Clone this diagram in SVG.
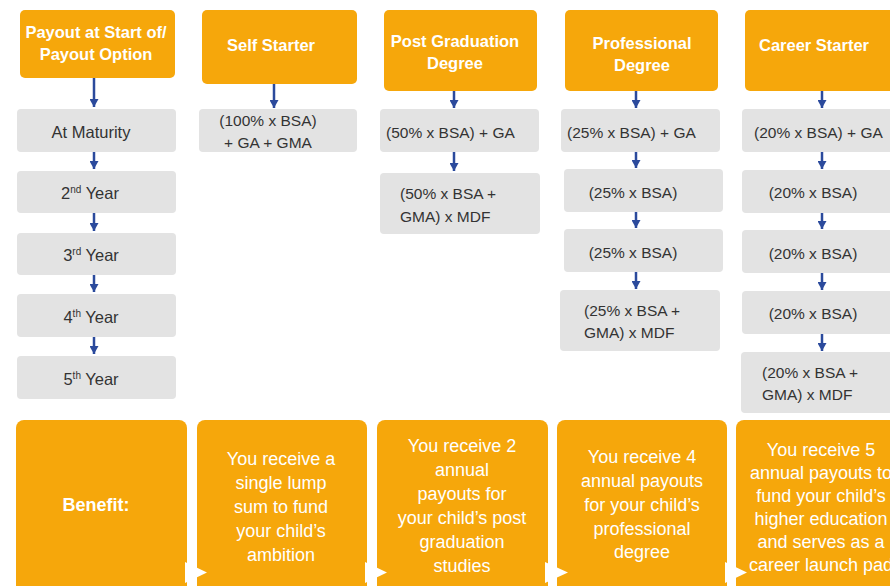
<svg xmlns="http://www.w3.org/2000/svg" width="890" height="586" viewBox="0 0 890 586">
<defs>
<style>
.hd{fill:#F6A70B}
.gb{fill:#E3E3E3}
.bn{fill:#F6A70B}
.ht{font-family:"Liberation Sans",Arial,sans-serif;font-weight:bold;font-size:16.5px;fill:#FFFFFF;text-anchor:middle}
.gt{font-family:"Liberation Sans",Arial,sans-serif;font-size:16.5px;fill:#333333}
.ft{font-family:"Liberation Sans",Arial,sans-serif;font-size:15.5px;fill:#333333}
.c{text-anchor:middle}
.bt{font-family:"Liberation Sans",Arial,sans-serif;font-size:18px;fill:#FFFFFF;text-anchor:middle}
.sup{font-size:10px}
.cn line{stroke:#2B4A9C;stroke-width:2.5;marker-end:url(#ah)}
.tri{fill:#FFFFFF}
</style>
<marker id="ah" markerUnits="userSpaceOnUse" markerWidth="9" markerHeight="9" refX="8" refY="4.5" orient="auto">
<path d="M0,0 L8,4.5 L0,9 z" fill="#2B4A9C"/>
</marker>
</defs>
<rect width="890" height="586" fill="#FFFFFF"/>

<g id="h1"><rect class="hd" x="20" y="10" width="155" height="68" rx="5"/><text class="ht" x="96" y="38">Payout at Start of/</text><text class="ht" x="96" y="60">Payout Option</text></g>
<g id="h2"><rect class="hd" x="202" y="10" width="155" height="74" rx="5"/><text class="ht" x="271" y="51">Self Starter</text></g>
<g id="h3"><rect class="hd" x="384" y="10" width="153" height="81" rx="5"/><text class="ht" x="455" y="47">Post Graduation</text><text class="ht" x="455" y="69">Degree</text></g>
<g id="h4"><rect class="hd" x="565" y="10" width="153" height="81" rx="5"/><text class="ht" x="642" y="49">Professional</text><text class="ht" x="642" y="71">Degree</text></g>
<g id="h5"><rect class="hd" x="745" y="10" width="160" height="81" rx="5"/><text class="ht" x="814" y="51">Career Starter</text></g>

<g id="c1r1"><rect class="gb" x="17" y="109" width="159" height="43" rx="4"/><text class="gt c" x="91" y="138">At Maturity</text></g>
<g id="c1r2"><rect class="gb" x="17" y="171" width="159" height="42" rx="4"/><text class="gt c" x="90" y="199">2<tspan class="sup" dy="-6">nd</tspan><tspan dy="6"> Year</tspan></text></g>
<g id="c1r3"><rect class="gb" x="17" y="233" width="159" height="42" rx="4"/><text class="gt c" x="91" y="261">3<tspan class="sup" dy="-6">rd</tspan><tspan dy="6"> Year</tspan></text></g>
<g id="c1r4"><rect class="gb" x="17" y="294" width="159" height="43" rx="4"/><text class="gt c" x="91" y="323">4<tspan class="sup" dy="-6">th</tspan><tspan dy="6"> Year</tspan></text></g>
<g id="c1r5"><rect class="gb" x="17" y="356" width="159" height="43" rx="4"/><text class="gt c" x="91" y="385">5<tspan class="sup" dy="-6">th</tspan><tspan dy="6"> Year</tspan></text></g>

<g id="c2r1"><rect class="gb" x="199" y="109" width="158" height="43" rx="4"/><text class="ft c" x="268" y="126">(100% x BSA)</text><text class="ft c" x="268" y="148">+ GA + GMA</text></g>

<g id="c3r1"><rect class="gb" x="380" y="109" width="159" height="43" rx="4"/><text class="ft" x="386" y="138">(50% x BSA) + GA</text></g>
<g id="c3r2"><rect class="gb" x="380" y="173" width="160" height="61" rx="4"/><text class="ft" x="400" y="199">(50% x BSA +</text><text class="ft" x="400" y="222">GMA) x MDF</text></g>

<g id="c4r1"><rect class="gb" x="561" y="109" width="159" height="43" rx="4"/><text class="ft" x="567" y="138">(25% x BSA) + GA</text></g>
<g id="c4r2"><rect class="gb" x="564" y="169" width="159" height="43" rx="4"/><text class="ft c" x="633" y="198">(25% x BSA)</text></g>
<g id="c4r3"><rect class="gb" x="564" y="229" width="159" height="43" rx="4"/><text class="ft c" x="633" y="258">(25% x BSA)</text></g>
<g id="c4r4"><rect class="gb" x="560" y="290" width="160" height="61" rx="4"/><text class="ft" x="584" y="316">(25% x BSA +</text><text class="ft" x="584" y="338">GMA) x MDF</text></g>

<g id="c5r1"><rect class="gb" x="742" y="109" width="160" height="43" rx="4"/><text class="ft" x="754" y="138">(20% x BSA) + GA</text></g>
<g id="c5r2"><rect class="gb" x="742" y="170" width="160" height="43" rx="4"/><text class="ft c" x="813" y="198">(20% x BSA)</text></g>
<g id="c5r3"><rect class="gb" x="742" y="230" width="160" height="43" rx="4"/><text class="ft c" x="813" y="259">(20% x BSA)</text></g>
<g id="c5r4"><rect class="gb" x="742" y="291" width="160" height="43" rx="4"/><text class="ft c" x="813" y="319">(20% x BSA)</text></g>
<g id="c5r5"><rect class="gb" x="741" y="352" width="160" height="61" rx="4"/><text class="ft" x="762" y="378">(20% x BSA +</text><text class="ft" x="762" y="400">GMA) x MDF</text></g>

<g id="connectors" class="cn">
<line x1="94" y1="78" x2="94" y2="107"/>
<line x1="94" y1="152" x2="94" y2="169"/>
<line x1="94" y1="213" x2="94" y2="231"/>
<line x1="94" y1="275" x2="94" y2="292"/>
<line x1="94" y1="337" x2="94" y2="354"/>
<line x1="274" y1="84" x2="274" y2="108"/>
<line x1="454" y1="91" x2="454" y2="108"/>
<line x1="454" y1="152" x2="454" y2="171"/>
<line x1="636" y1="91" x2="636" y2="108"/>
<line x1="636" y1="152" x2="636" y2="168"/>
<line x1="636" y1="212" x2="636" y2="228"/>
<line x1="636" y1="272" x2="636" y2="289"/>
<line x1="822" y1="91" x2="822" y2="108"/>
<line x1="822" y1="152" x2="822" y2="169"/>
<line x1="822" y1="213" x2="822" y2="229"/>
<line x1="822" y1="273" x2="822" y2="290"/>
<line x1="822" y1="334" x2="822" y2="351"/>
</g>

<g id="b1"><rect class="bn" x="16" y="420" width="171" height="180" rx="8"/><text class="bt" x="96" y="511" font-weight="bold">Benefit:</text></g>
<g id="b2"><rect class="bn" x="197" y="420" width="170" height="180" rx="8"/>
<text class="bt" x="281" y="465">You receive a</text>
<text class="bt" x="281" y="489">single lump</text>
<text class="bt" x="281" y="513">sum to fund</text>
<text class="bt" x="281" y="537">your child’s</text>
<text class="bt" x="281" y="561">ambition</text></g>
<g id="b3"><rect class="bn" x="377" y="420" width="171" height="180" rx="8"/>
<text class="bt" x="462" y="452">You receive 2</text>
<text class="bt" x="462" y="476">annual</text>
<text class="bt" x="462" y="500">payouts for</text>
<text class="bt" x="462" y="524">your child’s post</text>
<text class="bt" x="462" y="548">graduation</text>
<text class="bt" x="462" y="572">studies</text></g>
<g id="b4"><rect class="bn" x="557" y="420" width="170" height="180" rx="8"/>
<text class="bt" x="642" y="463">You receive 4</text>
<text class="bt" x="642" y="487">annual payouts</text>
<text class="bt" x="642" y="511">for your child’s</text>
<text class="bt" x="642" y="535">professional</text>
<text class="bt" x="642" y="558">degree</text></g>
<g id="b5"><rect class="bn" x="736" y="420" width="170" height="180" rx="8"/>
<text class="bt" x="821" y="456">You receive 5</text>
<text class="bt" x="821" y="479">annual payouts to</text>
<text class="bt" x="821" y="502">fund your child’s</text>
<text class="bt" x="821" y="525">higher education</text>
<text class="bt" x="821" y="548">and serves as a</text>
<text class="bt" x="821" y="571">career launch pad</text></g>

<polygon class="tri" points="185,562 207,572.5 185,583"/>
<polygon class="tri" points="365,562 387,572.5 365,583"/>
<polygon class="tri" points="545,562 568,572.5 545,583"/>
<polygon class="tri" points="725,562 747,572.5 725,583"/>
</svg>
